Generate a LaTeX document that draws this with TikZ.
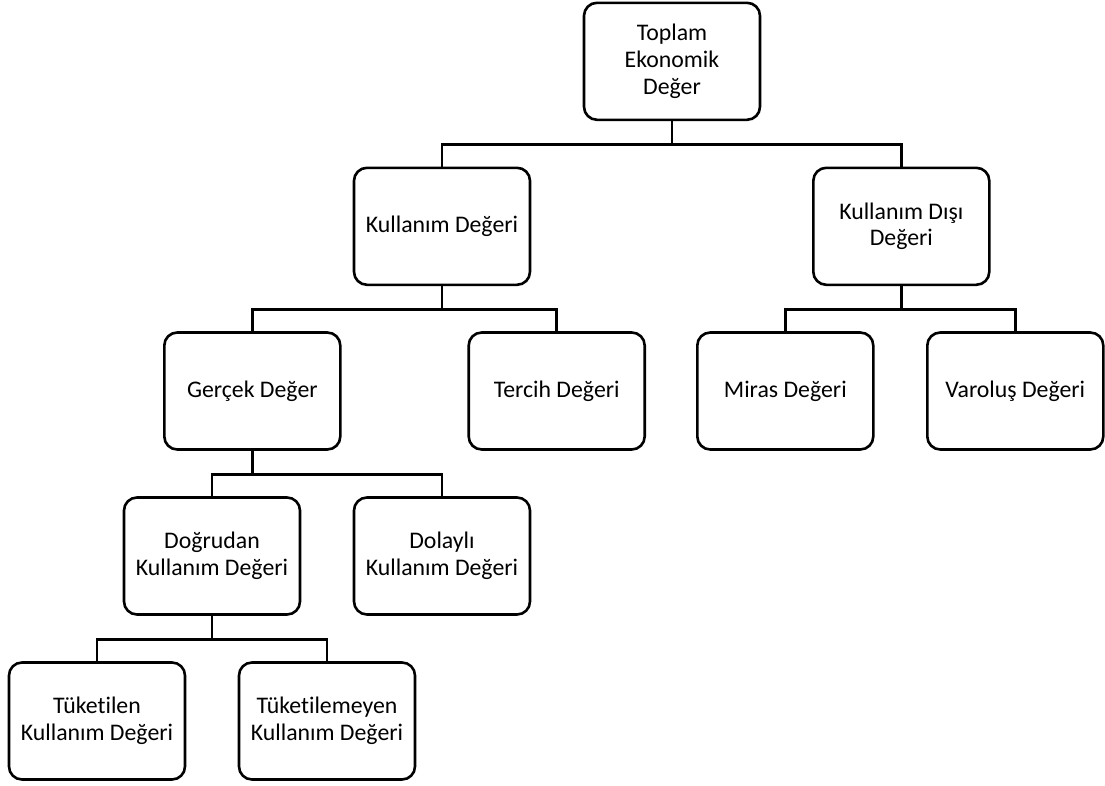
\documentclass[tikz,border=0pt]{standalone}
\usepackage{fontspec}
\setmainfont{Carlito}[Ligatures={NoCommon}]
\begin{document}
\begin{tikzpicture}[x=1pt,y=-1pt,
  box/.style={draw=black, line width=2.6pt, rounded corners=13pt, fill=white,
    minimum width=176pt, minimum height=117pt, align=center, inner sep=2pt,
    font=\fontsize{23.8}{26.6}\selectfont},
  link/.style={draw=black, line width=2.6pt}]
\useasboundingbox (0,0) rectangle (1105,785);
\node[box] (top) at (672,61.3) {Toplam\\Ekonomik\\Değer};
\node[box] (ku) at (442,226.3) {Kullanım Değeri};
\node[box] (kd) at (901.3,226.3) {Kullanım Dışı\\Değeri};
\node[box] (ge) at (252.3,391) {Gerçek Değer};
\node[box] (te) at (556.7,391) {Tercih Değeri};
\node[box] (mi) at (785.3,391) {Miras Değeri};
\node[box] (va) at (1015.3,391) {Varoluş Değeri};
\node[box] (dd) at (212,556) {Doğrudan\\Kullanım Değeri};
\node[box] (dl) at (442,556) {Dolaylı\\Kullanım Değeri};
\node[box] (tk) at (97,721) {Tüketilen\\Kullanım Değeri};
\node[box] (tm) at (327,721) {Tüketilemeyen\\Kullanım Değeri};
\path[link] (top.south) -- ++(0,23.5) -| (ku.north);
\path[link] (top.south) -- ++(0,23.5) -| (kd.north);
\path[link] (ku.south) -- ++(0,23.5) -| (ge.north);
\path[link] (ku.south) -- ++(0,23.5) -| (te.north);
\path[link] (kd.south) -- ++(0,23.5) -| (mi.north);
\path[link] (kd.south) -- ++(0,23.5) -| (va.north);
\path[link] (ge.south) -- ++(0,23.5) -| (dd.north);
\path[link] (ge.south) -- ++(0,23.5) -| (dl.north);
\path[link] (dd.south) -- ++(0,23.5) -| (tk.north);
\path[link] (dd.south) -- ++(0,23.5) -| (tm.north);
\end{tikzpicture}
\end{document}
